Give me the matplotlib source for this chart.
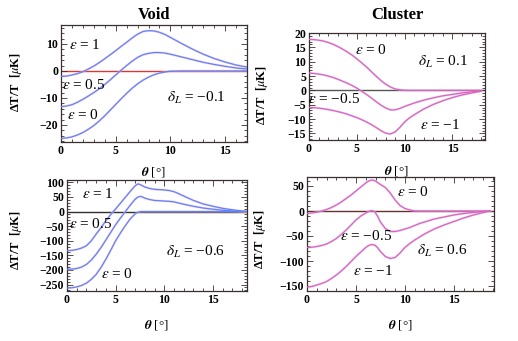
import matplotlib
matplotlib.use("Agg")
import matplotlib.pyplot as plt
from matplotlib.ticker import MultipleLocator

plt.rcParams['font.family'] = ['Liberation Serif', 'DejaVu Serif']
plt.rcParams['mathtext.fontset'] = 'stix'

# ---- Void, delta_L = -0.1 ----
x_tl = [0, 0.5, 1, 1.5, 2, 2.5, 3, 3.5, 4, 4.5, 5, 5.5, 6, 6.5, 7, 7.5, 8, 8.5, 9, 9.5, 10, 11, 12, 13, 14, 15, 16, 17]
tl_eps1 = [-2.0, -1.9, -1.5, -1.0, -0.3, 0.7, 1.8, 3.1, 4.5, 6.0, 7.5, 9.1, 10.6, 12.2, 13.6, 14.6, 14.9, 14.8, 14.3, 13.5, 12.4, 10.2, 8.1, 6.2, 4.6, 3.3, 2.2, 1.4]
tl_eps05 = [-13.2, -13.0, -12.5, -11.6, -10.5, -9.3, -8.0, -6.6, -5.0, -3.3, -1.5, 0.3, 2.0, 3.6, 5.0, 6.0, 6.5, 6.8, 6.8, 6.6, 6.2, 5.2, 4.2, 3.2, 2.4, 1.7, 1.1, 0.7]
tl_eps0 = [-25.0, -24.8, -24.4, -23.7, -22.8, -21.6, -20.2, -18.5, -16.6, -14.5, -12.4, -10.3, -8.3, -6.4, -4.8, -3.4, -2.3, -1.4, -0.8, -0.4, -0.1, 0, 0, 0, 0, 0, 0, 0]

# ---- Cluster, delta_L = 0.1 ----
x_tr = [0, 0.5, 1, 1.5, 2, 2.5, 3, 3.5, 4, 4.5, 5, 5.5, 6, 6.5, 7, 7.5, 8, 8.5, 9, 9.5, 10, 10.5, 11, 12, 13, 14, 15, 16, 17, 18]
tr_eps0 = [17.8, 17.7, 17.5, 17.2, 16.7, 16.1, 15.3, 14.4, 13.4, 12.3, 11.0, 9.6, 8.2, 6.6, 5.0, 3.5, 2.2, 1.2, 0.5, 0.2, 0.05, 0, 0, 0, 0, 0, 0, 0, 0, 0]
tr_epsm05 = [6.0, 5.9, 5.7, 5.4, 5.0, 4.5, 3.9, 3.2, 2.5, 1.7, 0.8, -0.3, -1.4, -2.6, -3.9, -5.1, -6.1, -6.8, -6.8, -6.3, -5.6, -5.0, -4.4, -3.4, -2.6, -1.9, -1.4, -0.9, -0.5, -0.15]
tr_epsm1 = [-6.0, -6.0, -6.2, -6.4, -6.7, -7.0, -7.4, -7.8, -8.3, -8.9, -9.5, -10.2, -11.0, -11.9, -12.9, -14.0, -14.9, -15.2, -14.5, -12.9, -11.0, -9.6, -8.5, -6.5, -4.9, -3.6, -2.5, -1.6, -0.9, -0.3]

# ---- Void, delta_L = -0.6 ----
x_bl = [0, 0.5, 1, 1.5, 2, 2.5, 3, 3.5, 4, 4.5, 5, 5.5, 6, 6.5, 7, 7.3, 7.6, 8, 8.5, 9, 9.5, 10, 10.5, 11, 11.5, 12, 13, 14, 15, 16, 17, 18, 18.5]
bl_eps1 = [-134, -133, -130, -125, -117, -100, -77, -55, -31, -10, 9, 29, 49, 69, 88, 95, 91, 84, 79, 76, 75, 74, 72, 68, 61, 53, 38, 26, 18, 11, 6, 1.5, 0]
bl_eps05 = [-198, -197, -195, -190, -181, -166, -146, -123, -97, -71, -45, -22, 0, 22, 42, 50, 52, 46, 41, 38, 37, 36, 35, 33, 29, 25, 18, 12, 8, 4.5, 2, 0.7, 0]
bl_eps0 = [-262, -261, -258, -253, -245, -232, -215, -191, -163, -132, -100, -73, -48, -25, -8, -2, 0, 0, 0, 0, 0, 0, 0, 0, 0, 0, 0, 0, 0, 0, 0, 0, 0]

# ---- Cluster, delta_L = 0.6 ----
x_br = [0, 0.5, 1, 1.5, 2, 2.5, 3, 3.5, 4, 4.5, 5, 5.5, 6, 6.3, 6.6, 6.9, 7.2, 7.5, 8, 8.5, 9, 9.5, 10, 10.5, 11, 11.5, 12, 13, 14, 15, 16, 17, 18, 18.7]
br_eps0 = [-5, -4, -2.5, 0, 3, 7, 12, 18, 25, 32, 40, 48, 56, 60, 62, 61, 57, 53, 47, 36, 22, 11, 5, 2, 0.3, 0, 0, 0, 0, 0, 0, 0, 0, 0]
br_epsm05 = [-73, -72.5, -71, -69, -66, -61, -55, -47, -38, -28, -18, -10, -4, -1, 1, -1, -10, -22, -35, -41, -41, -39, -36, -33, -29, -25, -22, -16, -12, -8, -5, -2.8, -1, 0]
br_epsm1 = [-152, -151, -148, -145, -141, -135, -128, -120, -111, -101, -91, -82, -73, -69, -67, -68, -73, -81, -91, -95, -93, -84, -73, -65, -58, -52, -46, -36, -28, -21, -14, -8, -3, 0]

W, H = 518, 341
fig = plt.figure(figsize=(W / 100, H / 100), dpi=100)


def add_ax(l, t, r, b):
    return fig.add_axes([l / W, 1 - b / H, (r - l) / W, (b - t) / H])


ax_tl = add_ax(61, 25, 247, 142)
ax_tr = add_ax(309, 33, 485, 140)
ax_bl = add_ax(67, 180, 247, 291)
ax_br = add_ax(307, 177, 494, 291)

VOID_MAIN, VOID_HALO = '#5c84fa', '#f6b8d6'
CL_MAIN, CL_HALO = '#dc64b8', '#d4bcf6'
FRAME = '#3a2f2f'


def curve(ax, x, y, main, halo):
    ax.plot(x, y, color=halo, lw=1.7, alpha=0.55, solid_joinstyle='round', zorder=2)
    ax.plot(x, y, color=main, lw=0.9, solid_joinstyle='round', zorder=3)


def style(ax, xmaj, ymaj, ymin, ylabcoords, xlabcoords):
    ax.xaxis.set_major_locator(MultipleLocator(xmaj))
    ax.xaxis.set_minor_locator(MultipleLocator(1))
    ax.yaxis.set_major_locator(MultipleLocator(ymaj))
    ax.yaxis.set_minor_locator(MultipleLocator(ymin))
    ax.tick_params(which='both', direction='in', top=True, right=True, color=FRAME, width=0.6)
    ax.tick_params(which='major', length=4, labelsize=8.5, pad=2)
    ax.tick_params(which='minor', length=2)
    for lab in ax.get_xticklabels() + ax.get_yticklabels():
        lab.set_fontweight('bold')
    for s in ax.spines.values():
        s.set_color(FRAME)
        s.set_linewidth(0.9)
    ax.set_ylabel('ΔT/T  [$\\mu$K]', fontsize=9, fontweight='bold')
    ax.set_xlabel('$\\boldsymbol{\\theta}$ [°]', fontsize=9.5)
    ax.yaxis.set_label_coords(*ylabcoords)
    ax.xaxis.set_label_coords(*xlabcoords)


def lab(ax, x, y, s):
    ax.text(x, y, s, fontsize=11, va='center', ha='left', zorder=5)


# Top-left
ax = ax_tl
ax.axhline(0, color='#d83838', lw=1.0, zorder=1)
curve(ax, x_tl, tl_eps1, VOID_MAIN, VOID_HALO)
curve(ax, x_tl, tl_eps05, VOID_MAIN, VOID_HALO)
curve(ax, x_tl, tl_eps0, VOID_MAIN, VOID_HALO)
ax.set_xlim(0, 17)
ax.set_ylim(-26.3, 17)
style(ax, 5, 10, 2, (-0.2, 0.51), (0.5, -0.2))
lab(ax, 0.7, 9.6, '$\\varepsilon$ = 1')
lab(ax, 0.05, -5.2, '$\\varepsilon$ = 0.5')
lab(ax, 0.55, -16.3, '$\\varepsilon$ = 0')
lab(ax, 9.7, -10, '$\\delta_L$ = −0.1')
ax.set_title('Void', fontsize=12, fontweight='bold', pad=4)

# Top-right
ax = ax_tr
ax.axhline(0, color='#555555', lw=1.0, zorder=1)
curve(ax, x_tr, tr_eps0, CL_MAIN, CL_HALO)
curve(ax, x_tr, tr_epsm05, CL_MAIN, CL_HALO)
curve(ax, x_tr, tr_epsm1, CL_MAIN, CL_HALO)
ax.set_xlim(0, 18.4)
ax.set_ylim(-17.3, 20)
style(ax, 5, 5, 1, (-0.22, 0.42), (0.5, -0.22))
lab(ax, 4.8, 13.9, '$\\varepsilon$ = 0')
lab(ax, 11.4, 9.8, '$\\delta_L$ = 0.1')
lab(ax, -0.1, -2.9, '$\\varepsilon$ = −0.5')
lab(ax, 11.6, -12.2, '$\\varepsilon$ = −1')
ax.set_title('Cluster', fontsize=12, fontweight='bold', pad=10)

# Bottom-left
ax = ax_bl
ax.axhline(0, color='#303030', lw=1.0, zorder=1)
curve(ax, x_bl, bl_eps1, VOID_MAIN, VOID_HALO)
curve(ax, x_bl, bl_eps05, VOID_MAIN, VOID_HALO)
curve(ax, x_bl, bl_eps0, VOID_MAIN, VOID_HALO)
ax.set_xlim(0, 18.5)
ax.set_ylim(-272, 108)
style(ax, 5, 50, 10, (-0.24, 0.46), (0.5, -0.24))
lab(ax, 1.55, 61, '$\\varepsilon$ = 1')
lab(ax, 0.25, -43, '$\\varepsilon$ = 0.5')
lab(ax, 3.45, -215, '$\\varepsilon$ = 0')
lab(ax, 10.2, -140, '$\\delta_L$ = −0.6')

# Bottom-right
ax = ax_br
ax.axhline(0, color='#6a3030', lw=1.0, zorder=1)
curve(ax, x_br, br_eps0, CL_MAIN, CL_HALO)
curve(ax, x_br, br_epsm05, CL_MAIN, CL_HALO)
curve(ax, x_br, br_epsm1, CL_MAIN, CL_HALO)
ax.set_xlim(0, 19.1)
ax.set_ylim(-160, 68)
style(ax, 5, 50, 10, (-0.21, 0.46), (0.5, -0.24))
lab(ax, 9.2, 39, '$\\varepsilon$ = 0')
lab(ax, 3.4, -51, '$\\varepsilon$ = −0.5')
lab(ax, 11.2, -80, '$\\delta_L$ = 0.6')
lab(ax, 4.65, -120, '$\\varepsilon$ = −1')

fig.savefig('out.png', dpi=100)
